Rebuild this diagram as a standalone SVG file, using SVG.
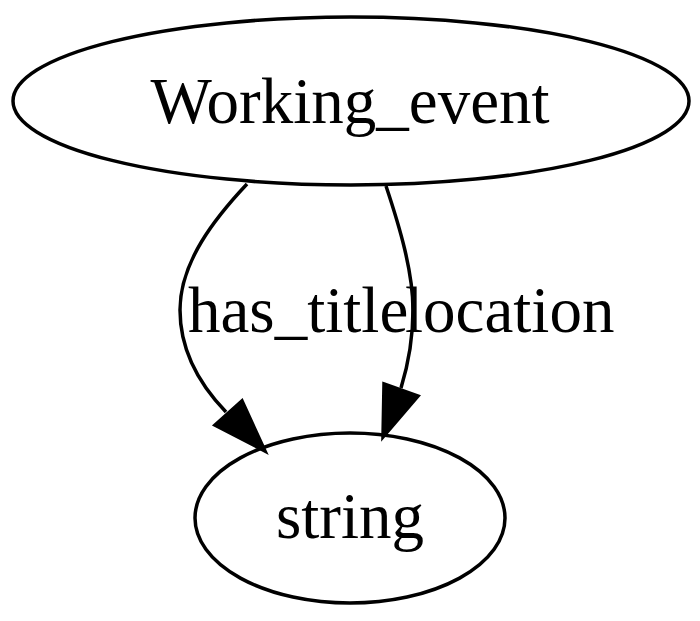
<svg xmlns="http://www.w3.org/2000/svg" width="700" height="621" viewBox="0 0 700 621">
<style>
.n{fill:none;stroke:#000;stroke-width:3.5}
.e{fill:none;stroke:#000;stroke-width:3.5}
.h{fill:#000;stroke:#000;stroke-width:3.5}
text{font-family:"Liberation Serif","Times New Roman",serif;font-size:65px;fill:#000;text-anchor:middle}
.l{text-anchor:start}
</style>
<rect width="700" height="621" fill="#fff"/>
<g id="edges">
<g id="e_has_title">
<path class="e" d="M247,184 C215,218 180,262 180,310 C180,350 200,385 226,412"/>
<polygon class="h" points="215,425 242,401 265,451"/>
<text class="l" x="188" y="332">has_title</text>
</g>
<g id="e_location">
<path class="e" d="M386,186 C400,228 413,272 413,310 C413,340 408,365 401,388"/>
<polygon class="h" points="384,384 418,396 383,437"/>
<text class="l" x="405" y="332">location</text>
</g>
</g>
<g id="Working_event">
<ellipse class="n" cx="351" cy="101" rx="338" ry="84"/>
<text x="350" y="123">Working_event</text>
</g>
<g id="string">
<ellipse class="n" cx="350" cy="518" rx="155" ry="85"/>
<text x="350" y="538">string</text>
</g>
</svg>
